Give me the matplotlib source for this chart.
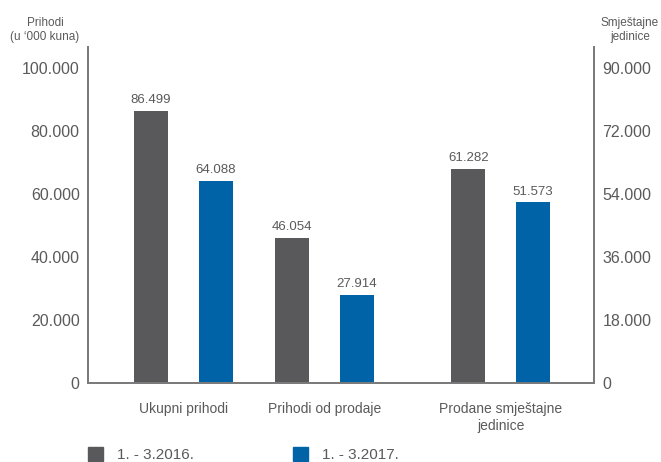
import matplotlib.pyplot as plt
from matplotlib.patches import Patch

# podaci
kategorije = ["Ukupni prihodi", "Prihodi od prodaje", "Prodane smještajne\njedinice"]
razdoblja = ["1. - 3.2016.", "1. - 3.2017."]
prihodi_2016 = [86499, 46054]
prihodi_2017 = [64088, 27914]
jedinice_2016 = [61282]
jedinice_2017 = [51573]
lijevi_ticks = [0, 20000, 40000, 60000, 80000, 100000]
desni_ticks = [0, 18000, 36000, 54000, 72000, 90000]

SIVA = "#59595b"
PLAVA = "#0063a7"
TEKST = "#5a5a5a"
OS = "#7a7a7a"

plt.rcParams['font.family'] = ['Liberation Sans', 'DejaVu Sans']


def fmt(v):
    return f"{v:,.0f}".replace(",", ".")


pozicije = [0, 1, 2.25]
sirina = 0.24
pomak = 0.23

fig = plt.figure(figsize=(6.61, 4.62), dpi=100)
ax = fig.add_axes([0.1331, 0.171, 0.7655, 0.7273])
ax2 = ax.twinx()

# lijeva os - prihodi
for i, (a, b) in enumerate(zip(prihodi_2016, prihodi_2017)):
    x = pozicije[i]
    ax.bar(x - pomak, a, sirina, color=SIVA)
    ax.bar(x + pomak, b, sirina, color=PLAVA)
    ax.text(x - pomak, a + 1500, fmt(a), ha="center", va="bottom", fontsize=9.5, color=TEKST)
    ax.text(x + pomak, b + 1500, fmt(b), ha="center", va="bottom", fontsize=9.5, color=TEKST)

# desna os - smjestajne jedinice
x = pozicije[2]
a, b = jedinice_2016[0], jedinice_2017[0]
ax2.bar(x - pomak, a, sirina, color=SIVA)
ax2.bar(x + pomak, b, sirina, color=PLAVA)
ax2.text(x - pomak, a + 1350, fmt(a), ha="center", va="bottom", fontsize=9.5, color=TEKST)
ax2.text(x + pomak, b + 1350, fmt(b), ha="center", va="bottom", fontsize=9.5, color=TEKST)

ax.set_xlim(-0.677, 2.911)
ax.set_ylim(0, 106667)
ax2.set_ylim(0, 96000)

ax.set_yticks(lijevi_ticks)
ax.set_yticklabels([fmt(v) for v in lijevi_ticks])
ax2.set_yticks(desni_ticks)
ax2.set_yticklabels([fmt(v) for v in desni_ticks])

ax.set_xticks(pozicije)
ax.set_xticklabels(kategorije)

for a_ in (ax, ax2):
    a_.spines["top"].set_visible(False)
    for s in ("left", "right", "bottom"):
        a_.spines[s].set_color(OS)
        a_.spines[s].set_linewidth(1.3)
    a_.tick_params(length=0, labelsize=11.5, labelcolor=TEKST, pad=6)
ax.tick_params(axis="x", labelsize=10, pad=14)

fig.text(0.068, 0.935, "Prihodi\n(u ‘000 kuna)", ha="center", va="center",
         fontsize=8.5, color=TEKST, linespacing=1.3)
fig.text(0.953, 0.935, "Smještajne\njedinice", ha="center", va="center",
         fontsize=8.5, color=TEKST, linespacing=1.3)

ruke = [Patch(color=SIVA), Patch(color=PLAVA)]
fig.legend(ruke, razdoblja, loc="center left", bbox_to_anchor=(0.112, 0.016),
           ncol=2, frameon=False, fontsize=11, handlelength=1.0, handleheight=1.0,
           handletextpad=0.9, columnspacing=6.5, labelcolor=TEKST)

fig.savefig("out.png", dpi=100)
